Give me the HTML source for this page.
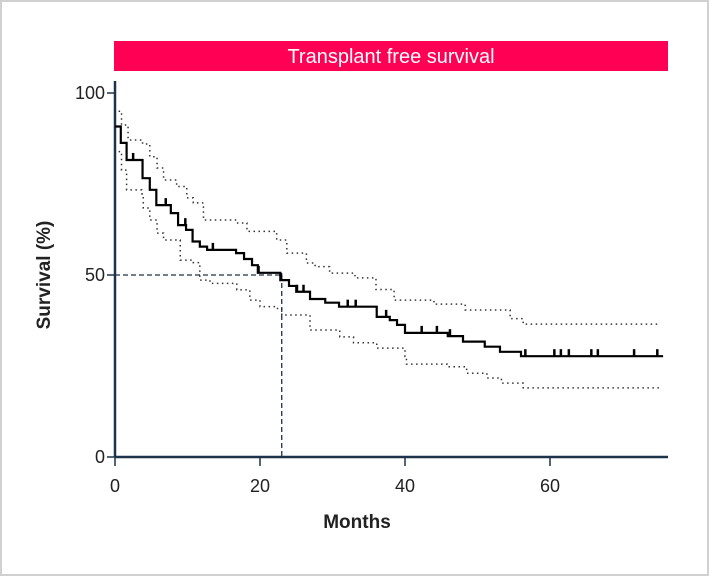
<!DOCTYPE html>
<html><head><meta charset="utf-8"><style>
body{margin:0;background:#fff;}
#wrap{position:relative;width:709px;height:576px;font-family:"Liberation Sans",sans-serif;}
svg{position:absolute;left:0;top:0;}
</style></head><body>
<div id="wrap">
<svg id="chart" width="709" height="576">
<rect x="1" y="1" width="707" height="574" fill="none" stroke="#d0d0d0" stroke-width="2"/>
<rect x="114" y="41" width="554" height="30" fill="#ff0055"/>
<text x="391" y="63" text-anchor="middle" fill="#fff" font-size="20">Transplant free survival</text>
<text x="357" y="528" text-anchor="middle" font-size="19" font-weight="bold" fill="#222">Months</text>
<text transform="translate(50,275) rotate(-90)" text-anchor="middle" font-size="19" font-weight="bold" fill="#222">Survival (%)</text>
</svg>
</div>
<script>
const xTicks=[0,20,40,60];
const yTicks=[0,50,100];
const survTimes=[0,0.8,1.6,3.8,4.8,5.7,7.7,8.7,9.8,10.7,11.7,12.7,16.7,17.8,18.9,19.7,22.8,24,25,26.9,29,30.9,36.1,37.9,38.9,40,45.9,48,51,53.1,56];
const survValues=[90.8,86.3,81.6,76.6,73.4,69.2,67.0,63.7,62.4,59.2,57.8,56.9,56.0,54.4,52.7,50.6,48.6,47.0,45.4,43.4,42.4,41.3,38.5,37.6,36.3,34.1,33.2,31.7,30.3,28.9,27.7];
const survEnd=75.6;
const upperTimes=[0.5,0.9,1.8,3.8,4.8,5.8,6.7,8.5,9.9,10.8,12.2,16.8,18.2,22.3,23.7,26.4,27.6,29.6,33.1,36,38.5,44,48.3,54.5,56.3];
const upperValues=[95,91.2,87.1,86,82.5,79.4,76.1,74.3,71.2,69.8,65.1,64.3,62,59.6,56,53.3,52.3,50.5,49.2,46,43.1,42,40.4,38,36.5];
const lowerTimes=[0.5,0.9,1.6,3.7,3.9,4.8,5.8,6.7,9,10.8,11.7,13.1,16.8,18.6,20,22.3,23,26.9,31,32.9,36.1,40,40.2,45.8,48.5,51.3,53.3,56.3];
const lowerValues=[83.9,78.8,73.4,72.3,68.4,65.1,61.5,59.6,54.1,53.4,48.6,47.7,45.9,43.1,41.3,40.8,39,34.9,33,31.4,29.9,27.6,25.5,24.8,23,21.7,20.3,19];
const ciEnd=75.2;
const censorTimes=[2.5,7.0,9.7,13.5,19.8,22.9,25.1,26,32.1,33.2,37.4,42.3,44.4,46.2,56.6,60.6,61.5,62.6,65.7,66.6,71.6,74.8];
const medianTime=23, medianValue=50;

const X=m=>115+m*7.25;
const Y=v=>457-v*3.64;
const svg=document.getElementById('chart');
const NS='http://www.w3.org/2000/svg';
function mk(tag,attrs){const e=document.createElementNS(NS,tag);for(const k in attrs)e.setAttribute(k,attrs[k]);svg.appendChild(e);return e;}
const axisCol='#1c3349';
let ya=mk('line',{x1:115,y1:81,x2:115,y2:457,stroke:axisCol,'stroke-width':2.5});


let xa=mk('line',{x1:115,y1:457,x2:668,y2:457,stroke:axisCol,'stroke-width':2.5});


yTicks.forEach(v=>{
 let t=mk('line',{x1:107,y1:Y(v),x2:115,y2:Y(v),stroke:axisCol,'stroke-width':1.5});
 
 
 let l=mk('text',{x:105,y:Y(v)+6,'text-anchor':'end','font-size':18,fill:'#222'});
 l.textContent=v;
 
 
});
xTicks.forEach(v=>{
 let t=mk('line',{x1:X(v),y1:457,x2:X(v),y2:466,stroke:axisCol,'stroke-width':1.5});
 
 
 let l=mk('text',{x:X(v),y:492,'text-anchor':'middle','font-size':18,fill:'#222'});
 l.textContent=v;
 
 
});
function stepPath(ts,vs,end){
 let d='M'+X(ts[0])+','+Y(vs[0]);
 for(let i=1;i<ts.length;i++){d+=' H'+X(ts[i])+' V'+Y(vs[i]);}
 d+=' H'+X(end);return d;
}
let up=mk('path',{d:stepPath(upperTimes,upperValues,ciEnd),fill:'none',stroke:'#333','stroke-width':1.5,'stroke-dasharray':'1.5 3.5'});


let lo=mk('path',{d:stepPath(lowerTimes,lowerValues,ciEnd),fill:'none',stroke:'#333','stroke-width':1.5,'stroke-dasharray':'1.5 3.5'});


let mh=mk('line',{x1:X(0),y1:Y(medianValue),x2:X(medianTime),y2:Y(medianValue),stroke:axisCol,'stroke-width':1.3,'stroke-dasharray':'5 3'});


let mv=mk('line',{x1:X(medianTime),y1:Y(medianValue),x2:X(medianTime),y2:Y(0),stroke:axisCol,'stroke-width':1.3,'stroke-dasharray':'5 3'});


let sp=mk('path',{d:stepPath(survTimes,survValues,survEnd),fill:'none',stroke:'#000','stroke-width':2.2});


function survAt(t){let v=survValues[0];for(let i=0;i<survTimes.length;i++){if(survTimes[i]<=t)v=survValues[i];}return v;}
censorTimes.forEach(t=>{
 let c=mk('line',{x1:X(t),y1:Y(survAt(t)),x2:X(t),y2:Y(survAt(t))-7,stroke:'#000','stroke-width':2.5});
 
 
});
</script>
</body></html>
